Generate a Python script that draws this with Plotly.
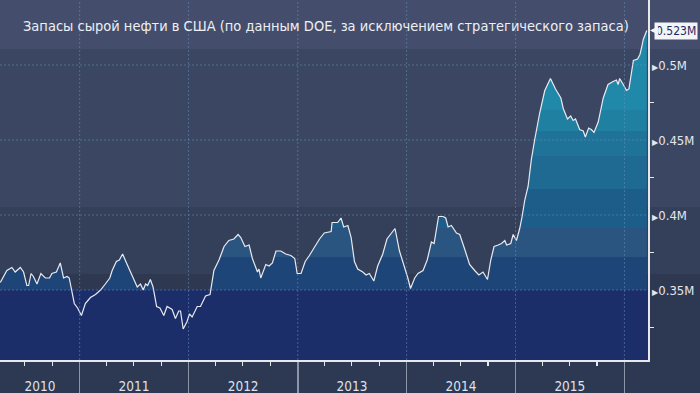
import plotly.graph_objects as go

# ---------------- data ----------------
dates = [
    "2010-04-10", "2010-05-02", "2010-05-19", "2010-05-30", "2010-06-16", "2010-06-27",
    "2010-07-08", "2010-07-14", "2010-07-22", "2010-07-30", "2010-08-11", "2010-08-24",
    "2010-09-08", "2010-09-22", "2010-09-30", "2010-10-15", "2010-10-28", "2010-11-08",
    "2010-11-20", "2010-11-27", "2010-12-03", "2010-12-14", "2010-12-25",
    "2011-01-07", "2011-01-20", "2011-02-06", "2011-02-23", "2011-03-12", "2011-03-28",
    "2011-04-12", "2011-04-20", "2011-05-04", "2011-05-14", "2011-05-25", "2011-06-07",
    "2011-06-24", "2011-07-13", "2011-07-24", "2011-08-02", "2011-08-10", "2011-08-17",
    "2011-08-26", "2011-09-04", "2011-09-16", "2011-09-27", "2011-10-10", "2011-10-21",
    "2011-11-07", "2011-11-18", "2011-11-29", "2011-12-05", "2011-12-14", "2011-12-27",
    "2012-01-04", "2012-01-13", "2012-01-30", "2012-02-10", "2012-02-27", "2012-03-13",
    "2012-03-26", "2012-04-12", "2012-04-29", "2012-05-15", "2012-06-01", "2012-06-15",
    "2012-06-24", "2012-07-08", "2012-07-22", "2012-08-02", "2012-08-19", "2012-08-24",
    "2012-08-30", "2012-09-16", "2012-09-27", "2012-10-08", "2012-10-20", "2012-11-05",
    "2012-11-22", "2012-12-09", "2012-12-22", "2012-12-30",
    "2013-01-12", "2013-01-26", "2013-02-09", "2013-02-26", "2013-03-15", "2013-03-31",
    "2013-04-23", "2013-04-26", "2013-05-15", "2013-05-26", "2013-06-04", "2013-06-18",
    "2013-06-29", "2013-07-10", "2013-07-21", "2013-08-07", "2013-08-18", "2013-08-29",
    "2013-09-13", "2013-09-26", "2013-10-13", "2013-10-27", "2013-11-10", "2013-11-23",
    "2013-12-08", "2013-12-24",
    "2014-01-05", "2014-01-14", "2014-01-28", "2014-02-08", "2014-02-25", "2014-03-11",
    "2014-03-25", "2014-04-03", "2014-04-18", "2014-05-03", "2014-05-12", "2014-05-20",
    "2014-05-31", "2014-06-17", "2014-06-28", "2014-07-15", "2014-07-31", "2014-08-17",
    "2014-08-31", "2014-09-14", "2014-09-29", "2014-10-10", "2014-10-21", "2014-11-04",
    "2014-11-15", "2014-11-26", "2014-12-02", "2014-12-16", "2014-12-24",
    "2015-01-04", "2015-01-15", "2015-01-23", "2015-02-01", "2015-02-12", "2015-02-23",
    "2015-03-06", "2015-03-23", "2015-04-09", "2015-04-18", "2015-04-28", "2015-05-15",
    "2015-06-02", "2015-06-10", "2015-06-24", "2015-07-05", "2015-07-13", "2015-07-21",
    "2015-08-04", "2015-08-16", "2015-08-23", "2015-09-03", "2015-09-12", "2015-09-21",
    "2015-10-05", "2015-10-22", "2015-11-07", "2015-11-24", "2015-12-05", "2015-12-11",
    "2015-12-16", "2015-12-28",
    "2016-01-08", "2016-01-16", "2016-01-31", "2016-02-14", "2016-02-22", "2016-02-28",
    "2016-03-04", "2016-03-16",
]
stocks = [
    0.355, 0.363, 0.365, 0.362, 0.365, 0.362,
    0.353, 0.353, 0.361, 0.359, 0.354, 0.361,
    0.358, 0.358, 0.361, 0.362, 0.368, 0.358,
    0.359, 0.358, 0.352, 0.341, 0.338,
    0.333, 0.341, 0.345, 0.347, 0.350, 0.354,
    0.358, 0.363, 0.369, 0.370, 0.374, 0.368,
    0.360, 0.352, 0.354, 0.350, 0.354, 0.353,
    0.357, 0.352, 0.339, 0.338, 0.333, 0.339,
    0.337, 0.331, 0.336, 0.336, 0.324, 0.329,
    0.334, 0.332, 0.339, 0.339, 0.346, 0.347,
    0.363, 0.370, 0.379, 0.383, 0.384, 0.387,
    0.385, 0.379, 0.380, 0.371, 0.362, 0.364,
    0.358, 0.367, 0.366, 0.368, 0.376, 0.376,
    0.374, 0.373, 0.371, 0.361,
    0.361, 0.369, 0.373, 0.379, 0.384, 0.388,
    0.389, 0.395, 0.395, 0.398, 0.392, 0.393,
    0.385, 0.369, 0.364, 0.362, 0.360, 0.361,
    0.356, 0.366, 0.374, 0.384, 0.388, 0.391,
    0.376, 0.366,
    0.358, 0.351, 0.358, 0.361, 0.363, 0.370,
    0.382, 0.381, 0.399, 0.399, 0.398, 0.392,
    0.393, 0.388, 0.387, 0.377, 0.367, 0.363,
    0.360, 0.362, 0.357, 0.370, 0.379, 0.380,
    0.381, 0.383, 0.380, 0.381, 0.387,
    0.383, 0.391, 0.399, 0.410, 0.419, 0.437,
    0.450, 0.468, 0.483, 0.487, 0.491, 0.484,
    0.478, 0.471, 0.464, 0.466, 0.463, 0.464,
    0.457, 0.456, 0.452, 0.458, 0.457, 0.455,
    0.462, 0.478, 0.487, 0.489, 0.490, 0.487,
    0.491, 0.487,
    0.483, 0.484, 0.503, 0.504, 0.507, 0.512,
    0.517, 0.523,
]

title_text = "Запасы сырой нефти в США (по данным DOE, за исключением стратегического запаса)"

y_ticks = [0.35, 0.40, 0.45, 0.50]
y_tick_labels = ["0.35M", "0.4M", "0.45M", "0.5M"]
y_minor_ticks = [0.325, 0.375, 0.425, 0.475]

year_starts = ["2011-01-01", "2012-01-01", "2013-01-01", "2014-01-01", "2015-01-01", "2016-01-01"]
year_label_pos = ["2010-08-21", "2011-07-02", "2012-07-02", "2013-07-02", "2014-07-02", "2015-07-02"]
year_labels = ["2010", "2011", "2012", "2013", "2014", "2015"]

x_range = ["2010-04-09", "2016-03-20"]
y_range = [0.30333, 0.54333]

# stepped colour bands of the filled area (by value level)
fill_bounds = [0.35, 0.372, 0.391, 0.417, 0.439, 0.456, 0.47]
fill_colors = ["#1c2e69", "#1e4577", "#2a5580", "#1d5d8a", "#1e6a92", "#1f7399", "#1f80a2", "#2089a9"]

# background bands (by value level)
bg_bounds = [0.35, 0.3607, 0.4053, 0.5107]
bg_colors = ["#1c2e69", "#2e3851", "#343f5a", "#3a4662", "#444e6c"]

# ---------------- figure ----------------
FONT = "DejaVu Sans Condensed, Roboto, DejaVu Sans, sans-serif"

g_start, g_stop = 0.30, 0.55


def frac(v):
    return max(0.0, min(1.0, (v - g_start) / (g_stop - g_start)))


edges = [g_start] + fill_bounds + [g_stop]
colorscale = []
for i, c in enumerate(fill_colors):
    colorscale.append([frac(edges[i]), c])
    colorscale.append([frac(edges[i + 1]), c])

fig = go.Figure()

fig.add_trace(go.Scatter(
    x=dates, y=stocks, mode="lines",
    line=dict(color="#e9eaf0", width=1.2),
    fill="tozeroy",
    fillgradient=dict(type="vertical", colorscale=colorscale, start=g_start, stop=g_stop),
    hoverinfo="skip", showlegend=False,
))

# empty trace to carry the year-label axis
fig.add_trace(go.Scatter(x=[x_range[0]], y=[y_range[0]], xaxis="x2", mode="markers",
                         marker=dict(opacity=0), hoverinfo="skip", showlegend=False))

shapes = []
bedges = [y_range[0]] + bg_bounds + [y_range[1]]
for i, c in enumerate(bg_colors):
    shapes.append(dict(type="rect", xref="paper", yref="y", x0=0, x1=1 if i == 0 else 1.09,
                       y0=bedges[i], y1=bedges[i + 1], fillcolor=c, line=dict(width=0), layer="below"))

grid_col = "rgba(105,150,190,0.5)"
for v in y_ticks:
    shapes.append(dict(type="line", xref="paper", yref="y", x0=0, x1=1, y0=v, y1=v,
                       line=dict(color=grid_col, width=1, dash="2px,2px"), layer="above"))
for d in year_starts:
    shapes.append(dict(type="line", xref="x", yref="paper", x0=d, x1=d, y0=0, y1=1,
                       line=dict(color=grid_col, width=1, dash="2px,2px"), layer="above"))

annotations = [
    dict(text=title_text, xref="paper", yref="paper", x=0.033, y=0.928, xanchor="left",
         yanchor="middle", showarrow=False, font=dict(family=FONT, size=14.5, color="#eef0f5")),
    dict(text=f"{stocks[-1]:.3f}M", xref="paper", yref="y", x=1, y=stocks[-1], xanchor="left",
         yanchor="middle", showarrow=True, ax=6, ay=0, arrowhead=2, arrowsize=0.8,
         arrowwidth=2, arrowcolor="#f4f4f6", standoff=2, startstandoff=0,
         bgcolor="#f4f4f6", borderpad=1,
         font=dict(family=FONT, size=12, color="#1d2a5c")),
]

tri = '<span style="font-family:DejaVu Sans;font-size:8px">▶</span>'

fig.update_layout(
    width=700, height=393,
    margin=dict(l=0, r=52, t=0, b=33),
    paper_bgcolor="#2d3852",
    plot_bgcolor="rgba(0,0,0,0)",
    shapes=shapes,
    annotations=annotations,
    xaxis=dict(
        type="date", range=x_range, showgrid=False, zeroline=False,
        showline=True, linecolor="#e8e8ec", linewidth=1.5,
        tickmode="array", tickvals=year_starts, showticklabels=False,
        ticks="outside", ticklen=33, tickcolor="#8c94a8", tickwidth=1.5,
        minor=dict(ticks="outside", ticklen=4, tickcolor="#e8e8ec", tickwidth=1.2,
                   dtick="M3", tick0="2010-01-01", showgrid=False),
    ),
    xaxis2=dict(
        type="date", range=x_range, overlaying="x", anchor="y", side="bottom",
        showgrid=False, zeroline=False, showline=False,
        tickmode="array", tickvals=year_label_pos, ticktext=year_labels,
        ticks="outside", ticklen=14, tickcolor="rgba(0,0,0,0)",
        tickfont=dict(family=FONT, size=13.5, color="#dfe3ec"),
    ),
    yaxis=dict(
        range=y_range, side="right", showgrid=False, zeroline=False,
        showline=True, linecolor="#e8e8ec", linewidth=1.5,
        tickmode="array", tickvals=y_ticks, ticktext=[tri + t for t in y_tick_labels],
        ticks="", tickfont=dict(family=FONT, size=13, color="#e4e7ee"),
        minor=dict(ticks="outside", ticklen=4, tickcolor="#e8e8ec", tickwidth=1.2,
                   tickmode="array", tickvals=y_minor_ticks, showgrid=False),
    ),
)

fig.write_html(
    "out.html",
    config={"displayModeBar": False, "staticPlot": True},
    post_script="document.body.style.margin='0';document.body.style.padding='0';"
                "document.body.style.overflow='hidden';",
)
